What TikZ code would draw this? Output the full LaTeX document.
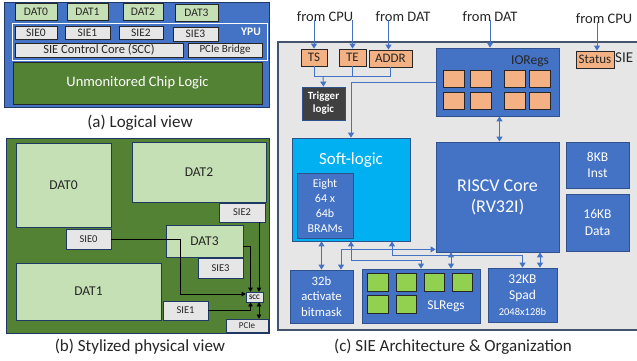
\documentclass[tikz,border=0pt]{standalone}
\usepackage{fontspec}
\setmainfont{Carlito}
\usetikzlibrary{arrows.meta}
\definecolor{ablue}{HTML}{4472C4}
\definecolor{dblue}{HTML}{2F528F}
\definecolor{navy}{HTML}{203864}
\definecolor{ugreen}{HTML}{548235}
\definecolor{lgreen}{HTML}{C5E0B4}
\definecolor{lgray}{HTML}{E7E6E6}
\definecolor{bggray}{HTML}{E6E6E6}
\definecolor{salmon}{HTML}{F4B183}
\definecolor{sgreen}{HTML}{92D050}
\definecolor{cyanb}{HTML}{00B0F0}
\definecolor{tdark}{HTML}{404040}
\definecolor{slate}{HTML}{44546A}
\definecolor{txt}{HTML}{262626}
\newcommand{\mybox}[7]{\node[box,#1,minimum width={(#5-#3)*1pt},minimum height={(#6-#4)*1pt}] (#2) at ({(#3+#5)/2},{(#4+#6)/2}) {#7};}
\tikzset{
  box/.style={inner sep=0pt, align=center, line width=0.8pt},
  datbox/.style={fill=lgreen, draw=txt, text=txt},
  siebox/.style={fill=lgray, draw=txt, text=txt},
  bluebox/.style={fill=ablue, draw=dblue, text=white},
  salbox/.style={fill=salmon, draw=txt, text=txt},
  sq1/.style={fill=salmon, draw=txt},
  sq2/.style={fill=sgreen, draw=txt},
  cline/.style={ablue, line width=0.9pt},
  c1/.style={cline, -{Triangle[length=5pt,width=6pt]}},
  c2/.style={cline, {Triangle[length=5pt,width=6pt]}-{Triangle[length=5pt,width=6pt]}},
  bl/.style={black, line width=0.6pt},
  b1/.style={bl, -{Triangle[length=4pt,width=4.5pt]}},
  b2/.style={bl, {Triangle[length=4pt,width=4.5pt]}-{Triangle[length=4pt,width=4.5pt]}},
  lbl/.style={inner sep=0pt, text=txt},
}
\begin{document}
\begin{tikzpicture}[x=1pt,y=-1pt]
\useasboundingbox (0,0) rectangle (637,360);
\fill[white] (0,0) rectangle (637,360);

% ---------------- (a) Logical view
\mybox{fill=ablue,draw=navy,line width=1pt}{aout}{4}{2}{269}{107}{}
\mybox{datbox,font=\fontsize{11.5}{13}\selectfont}{adat0}{15}{3}{57}{20}{DAT0}
\mybox{datbox,font=\fontsize{11.5}{13}\selectfont}{adat1}{67}{3}{108}{20}{DAT1}
\mybox{datbox,font=\fontsize{11.5}{13}\selectfont}{adat2}{123}{3}{163}{20}{DAT2}
\mybox{datbox,font=\fontsize{11.5}{13}\selectfont}{adat3}{175}{4}{218}{21}{DAT3}
\mybox{draw=white,line width=0.7pt}{aypu}{12}{23}{267}{60}{}
\mybox{siebox,font=\fontsize{11.5}{13}\selectfont}{asie0}{15}{26}{57}{39}{SIE0}
\mybox{siebox,font=\fontsize{11.5}{13}\selectfont}{asie1}{65}{26}{110}{39}{SIE1}
\mybox{siebox,font=\fontsize{11.5}{13}\selectfont}{asie2}{119}{26}{163}{39}{SIE2}
\mybox{siebox,font=\fontsize{11.5}{13}\selectfont}{asie3}{173}{27}{218}{41}{SIE3}
\mybox{siebox,font=\fontsize{12.5}{14}\selectfont}{ascc}{15}{43}{183}{57}{SIE Control Core (SCC)}
\mybox{siebox,font=\fontsize{11}{13}\selectfont}{apcie}{188}{43}{262}{57}{PCIe Bridge}
\mybox{fill=ugreen,draw=txt,text=white,font=\fontsize{14.5}{16}\selectfont}{aucl}{13}{62}{262}{104}{Unmonitored Chip Logic}
\node[inner sep=0pt,text=white,font=\bfseries\fontsize{11.5}{13}\selectfont] (aypulbl) at (251,32) {YPU};
\node[lbl,font=\fontsize{17}{19}\selectfont] (capa) at (140,123) {(a) Logical view};

% ---------------- (b) Stylized physical view
\mybox{fill=ugreen,draw=navy,line width=1pt}{bout}{6}{138}{269}{333}{}
\mybox{datbox,draw=navy,font=\fontsize{13.5}{15}\selectfont}{bdat0}{16}{143}{111}{227}{DAT0}
\mybox{datbox,draw=navy,font=\fontsize{13.5}{15}\selectfont}{bdat2}{132}{142}{266}{202}{DAT2}
\mybox{datbox,draw=navy,font=\fontsize{13.5}{15}\selectfont}{bdat3}{166}{225}{243}{257}{DAT3}
\mybox{datbox,draw=navy,font=\fontsize{13.5}{15}\selectfont}{bdat1}{16}{263}{161}{320}{DAT1}
\mybox{siebox,draw=navy,font=\fontsize{10.5}{12}\selectfont}{bsie2}{219}{203}{265}{222}{SIE2}
\mybox{siebox,draw=navy,font=\fontsize{10.5}{12}\selectfont}{bsie0}{66}{229}{111}{249}{SIE0}
\mybox{siebox,draw=navy,font=\fontsize{10.5}{12}\selectfont}{bsie3}{198}{258}{243}{278}{SIE3}
\mybox{siebox,draw=navy,font=\fontsize{10.5}{12}\selectfont}{bsie1}{163}{301}{208}{320}{SIE1}
\mybox{siebox,draw=navy,line width=0.6pt,font=\bfseries\fontsize{7}{8}\selectfont}{bscc}{246}{292}{263}{302}{SCC}
\mybox{siebox,draw=navy,font=\fontsize{9}{10}\selectfont}{bpcie}{226}{319}{268}{332}{PCIe}
\coordinate (b180) at (180,294);
\draw[b1] (bsie0.east) -| (b180) -- (b180 -| bscc.west);
\draw[b1] ([yshift=-5pt]bdat3.east) -| ([xshift=-4pt]bscc.north);
\draw[b1] ([xshift=4.5pt]bscc.north |- bsie2.south) -- ([xshift=4.5pt]bscc.north);
\draw[b1] (bsie1.east) -| ([xshift=-4pt]bscc.south);
\draw[b2] ([xshift=4.5pt]bscc.south) -- ([xshift=4.5pt]bscc.south |- bpcie.north);
\node[lbl,font=\fontsize{17}{19}\selectfont] (capb) at (140,347) {(b) Stylized physical view};

% ---------------- (c) SIE Architecture
\fill[bggray] (278,42) rectangle (637,330);
\draw[slate,line width=1.2pt] (637,42) -- (278,42) -- (278,330) -- (637,330);
\node[lbl,anchor=west,font=\fontsize{15}{17}\selectfont] (sielbl) at (615,58) {SIE};

\node[lbl,font=\fontsize{14.5}{16}\selectfont] (fcpu1) at (325,17) {from CPU};
\node[lbl,font=\fontsize{14.5}{16}\selectfont] (fdat1) at (403,17) {from DAT};
\node[lbl,font=\fontsize{14.5}{16}\selectfont] (fdat2) at (490,17) {from DAT};
\node[lbl,font=\fontsize{14.5}{16}\selectfont] (fcpu2) at (604,19) {from CPU};

\mybox{salbox,font=\fontsize{13}{15}\selectfont}{ts}{301}{49}{327}{66}{TS}
\mybox{salbox,font=\fontsize{13}{15}\selectfont}{te}{339}{49}{366}{66}{TE}
\mybox{salbox,font=\fontsize{13}{15}\selectfont}{addr}{369}{50}{412}{67}{ADDR}
\mybox{salbox,font=\fontsize{13}{15}\selectfont}{status}{576}{51}{614}{68}{Status}
\mybox{fill=tdark,draw=dblue,text=white,font=\bfseries\fontsize{11}{13}\selectfont}{trig}{302}{87}{345}{120}{Trigger\\logic}

\mybox{bluebox}{ioregs}{436}{48}{559}{116}{}
\node[lbl,font=\fontsize{13.5}{15}\selectfont] (iolbl) at (530,61) {IORegs};
\mybox{sq1}{ior1}{443}{70}{464}{87}{}
\mybox{sq1}{ior2}{470}{70}{491}{87}{}
\mybox{sq1}{ior3}{504}{70}{525}{87}{}
\mybox{sq1}{ior4}{529}{70}{550}{87}{}
\mybox{sq1}{ior5}{443}{92}{464}{109}{}
\mybox{sq1}{ior6}{470}{92}{491}{109}{}
\mybox{sq1}{ior7}{504}{92}{525}{109}{}
\mybox{sq1}{ior8}{529}{92}{550}{109}{}

\mybox{fill=cyanb,draw=dblue}{soft}{292}{138}{410}{241}{}
\node[inner sep=0pt,text=white,font=\fontsize{17}{19}\selectfont] (softlbl) at (351,160) {Soft-logic};
\mybox{bluebox,font=\fontsize{12}{15}\selectfont}{bram}{297}{173}{353}{238}{Eight\\64 x\\64b\\BRAMs}
\mybox{bluebox,font=\fontsize{18}{21}\selectfont}{riscv}{436}{142}{559}{252}{RISCV Core\\(RV32I)}
\mybox{bluebox,font=\fontsize{13.5}{16.5}\selectfont}{inst}{566}{142}{629}{188}{8KB\\Inst}
\mybox{bluebox,font=\fontsize{13.5}{16.5}\selectfont}{data}{566}{194}{629}{251}{16KB\\Data}
\mybox{bluebox,font=\fontsize{12.7}{15.5}\selectfont}{bitmask}{290}{270}{353}{323}{32b\\activate\\bitmask}
\mybox{bluebox}{slregs}{362}{269}{480}{323}{}
\node[inner sep=0pt,text=white,font=\fontsize{13.5}{15}\selectfont] (sllbl) at (446,306) {SLRegs};
\mybox{sq2}{slr1}{367}{273}{388}{291}{}
\mybox{sq2}{slr2}{396}{273}{416}{291}{}
\mybox{sq2}{slr3}{424}{273}{444}{291}{}
\mybox{sq2}{slr4}{452}{273}{472}{291}{}
\mybox{sq2}{slr5}{367}{295}{388}{313}{}
\mybox{sq2}{slr6}{396}{295}{416}{313}{}
\mybox{bluebox,font=\fontsize{13.5}{16}\selectfont}{spad}{488}{268}{557}{322}{32KB\\Spad\\{\fontsize{10.5}{12}\selectfont 2048x128b}}

% connectors (c)
\draw[c1] (ts.north |- fcpu1.south) ++(0,-2) -- (ts.north);
\draw[c1] (te.north |- fcpu1.south) ++(0,-2) -- (te.north);
\draw[c1] ([xshift=-2pt]addr.north |- fdat1.south) ++(0,-2) -- ([xshift=-2pt]addr.north);
\draw[c1] (fdat2.south) ++(0,-2) -- (fdat2.south |- ioregs.north);
\draw[c1] ([xshift=2pt]status.north |- fcpu2.south) ++(0,-2) -- ([xshift=2pt]status.north);
\coordinate (bus) at (323,76);
\draw[cline] (ts.south) -- (ts.south |- bus) -- (addr.south |- bus) -- (addr.south);
\draw[cline] (te.south) -- (te.south |- bus);
\draw[c1] (bus) -- (trig.north);
\draw[c1] (ioregs.west) -| (soft.north);
\draw[c2] ([xshift=2pt]ioregs.south) -- ([xshift=2pt]riscv.north);
\draw[c2] (soft.south -| bitmask.north) -- (bitmask.north);
\coordinate (y260) at (0,260);
\coordinate (y255) at (0,255);
\draw[c2] ([yshift=3pt]riscv.south west) -| ([xshift=19.5pt]bitmask.north);
\draw[c2] (soft.south) -- (soft.south |- y260) -| (slregs.north);
\draw[c2] ([xshift=41pt]soft.south) -- ([xshift=41pt]soft.south |- y255) -| (spad.north);
\draw[c2] ([xshift=-46.5pt]riscv.south) -- ([xshift=-46.5pt]riscv.south |- slregs.north);
\draw[c2] ([xshift=42.5pt]riscv.south) -- ([xshift=42.5pt]riscv.south |- spad.north);

\node[lbl,font=\fontsize{17}{19}\selectfont] (capc) at (453,347) {(c) SIE Architecture \& Organization};
\end{tikzpicture}
\end{document}
